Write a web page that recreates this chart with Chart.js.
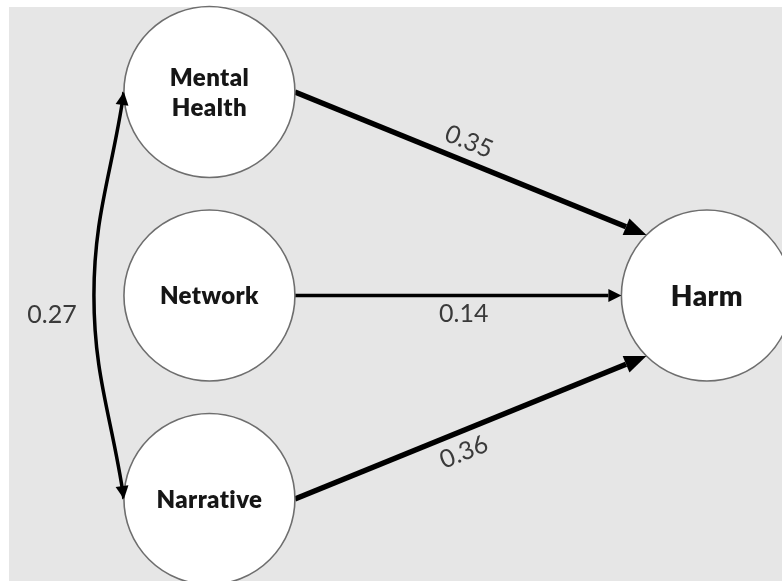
<!DOCTYPE html>
<html>
<head>
<meta charset="utf-8">
<script src="https://cdn.jsdelivr.net/npm/chart.js@4.4.1/dist/chart.umd.min.js"></script>
<style>
html, body { margin: 0; padding: 0; background: #fff; }
#wrap { width: 782px; height: 581px; }
</style>
</head>
<body>
<div id="wrap"><canvas id="pathChart" width="782" height="581"></canvas></div>
<script>
// path model
const nodeLabels = ['Mental Health', 'Network', 'Narrative', 'Harm'];
const pathFrom = ['Mental Health', 'Network', 'Narrative'];
const pathTo = ['Harm', 'Harm', 'Harm'];
const pathCoef = [0.35, 0.14, 0.36];
const covPair = ['Mental Health', 'Narrative'];
const covCoef = [0.27];

// layout: nodes sit on a column / row grid
const W = 782, H = 581;
const nodeCol = [0, 0, 0, 1];
const nodeRow = [0, 1, 2, 1];
const xRange = [-0.421, 1.151];
const yRange = [-0.452, 2.403];
const R = 85.5;
const xPx = W / (xRange[1] - xRange[0]);
const yPx = H / (yRange[1] - yRange[0]);
const rx = R / xPx;
const ry = R / yPx;

// edge styles
const edgeWidth = [5.5, 3.5, 5.5];
const headLen = [22, 13, 22];
const headHalf = [9, 6.5, 9];
const labelAlong = [0.474, 0.517, 0.459];
const labelOffset = [-19.5, 18, 20.4];

function idx(name) {
    return nodeLabels.indexOf(name);
}

const edgeSets = pathFrom.map((src, i) => {
    const s = idx(src);
    const t = idx(pathTo[i]);
    const side = Math.sign(nodeRow[s] - nodeRow[t]);
    const a = side * Math.PI / 4;
    const sx = nodeCol[s] + rx, sy = nodeRow[s];
    const tx = nodeCol[t] - rx * Math.cos(a), ty = nodeRow[t] + ry * Math.sin(a);
    // stop the shaft where the arrow head begins
    const lenPx = Math.hypot((tx - sx) * xPx, (ty - sy) * yPx);
    const f = headLen[i] / lenPx;
    return {
        type: 'line',
        label: src + ' -> ' + pathTo[i],
        kind: 'path',
        edge: i,
        data: [{ x: sx, y: sy }, { x: tx + f * (sx - tx), y: ty + f * (sy - ty) }],
        borderColor: '#000',
        borderWidth: edgeWidth[i],
        pointRadius: 0,
        tension: 0,
        order: 2,
        clip: false
    };
});

const ca = idx(covPair[0]), cb = idx(covPair[1]);
const bulge = 30 / xPx;
const covSet = {
    type: 'line',
    label: covPair.join(' <-> '),
    kind: 'cov',
    data: [
        { x: nodeCol[ca] - rx, y: nodeRow[ca] },
        { x: nodeCol[ca] - rx - bulge, y: (nodeRow[ca] + nodeRow[cb]) / 2 },
        { x: nodeCol[cb] - rx, y: nodeRow[cb] }
    ],
    borderColor: '#000',
    borderWidth: 3.5,
    pointRadius: 0,
    tension: 0.4,
    order: 2,
    clip: false
};

const nodeSet = {
    type: 'scatter',
    label: 'nodes',
    kind: 'node',
    data: nodeLabels.map((n, i) => ({ x: nodeCol[i], y: nodeRow[i] })),
    pointRadius: R,
    pointHoverRadius: R,
    backgroundColor: '#fff',
    borderColor: '#6e6e6e',
    borderWidth: 1.6,
    order: 0,
    clip: false
};

function drawHead(ctx, x, y, ux, uy, len, half) {
    const bx = x - ux * len, by = y - uy * len;
    ctx.beginPath();
    ctx.moveTo(x, y);
    ctx.lineTo(bx - uy * half, by + ux * half);
    ctx.lineTo(bx + uy * half, by - ux * half);
    ctx.closePath();
    ctx.fill();
}

const diagramLayer = {
    id: 'diagramLayer',
    beforeDraw(chart) {
        const ctx = chart.ctx;
        ctx.save();
        ctx.fillStyle = '#fff';
        ctx.fillRect(0, 0, W, H);
        ctx.fillStyle = '#e6e6e6';
        ctx.fillRect(9, 7, W - 9, H - 7);
        ctx.restore();
    },
    afterDatasetsDraw(chart) {
        const ctx = chart.ctx;
        ctx.save();
        ctx.fillStyle = '#000';
        ctx.textAlign = 'center';
        ctx.textBaseline = 'middle';
        chart.data.datasets.forEach((ds, di) => {
            const pts = chart.getDatasetMeta(di).data;
            if (ds.kind === 'path') {
                const i = ds.edge;
                const p0 = pts[0], p1 = pts[1];
                const L = Math.hypot(p1.x - p0.x, p1.y - p0.y);
                const ux = (p1.x - p0.x) / L, uy = (p1.y - p0.y) / L;
                const tipX = p1.x + ux * headLen[i], tipY = p1.y + uy * headLen[i];
                ctx.fillStyle = '#000';
                drawHead(ctx, tipX, tipY, ux, uy, headLen[i], headHalf[i]);
                const lx = p0.x + labelAlong[i] * (tipX - p0.x) - uy * labelOffset[i];
                const ly = p0.y + labelAlong[i] * (tipY - p0.y) + ux * labelOffset[i];
                ctx.save();
                ctx.translate(lx, ly);
                ctx.rotate(Math.atan2(uy, ux));
                ctx.fillStyle = '#3a3a3a';
                ctx.font = '25px Lato';
                ctx.fillText(pathCoef[i].toFixed(2), 0, 0);
                ctx.restore();
            } else if (ds.kind === 'cov') {
                const first = pts[0], last = pts[pts.length - 1], mid = pts[1];
                let dx = first.x - first.cp2x, dy = first.y - first.cp2y;
                let d = Math.hypot(dx, dy);
                ctx.fillStyle = '#000';
                drawHead(ctx, first.x, first.y, dx / d, dy / d, 13, 6.5);
                dx = last.x - last.cp1x; dy = last.y - last.cp1y;
                d = Math.hypot(dx, dy);
                drawHead(ctx, last.x, last.y, dx / d, dy / d, 13, 6.5);
                ctx.fillStyle = '#3a3a3a';
                ctx.font = '25px Lato';
                ctx.fillText(covCoef[0].toFixed(2), mid.x - 42, mid.y + 19);
            } else if (ds.kind === 'node') {
                ctx.fillStyle = '#161616';
                ctx.letterSpacing = '0.4px';
                pts.forEach((p, i) => {
                    const name = nodeLabels[i];
                    const words = name.split(' ');
                    ctx.font = (i === idx('Harm') ? '800 28px' : '800 24px') + ' Lato';
                    const lh = 30;
                    words.forEach((w, k) => {
                        ctx.fillText(w, p.x, p.y + 1 + (k - (words.length - 1) / 2) * lh);
                    });
                });
                ctx.letterSpacing = '0px';
            }
        });
        ctx.restore();
    }
};

function build() {
    new Chart(document.getElementById('pathChart').getContext('2d'), {
        type: 'scatter',
        data: {
            datasets: [nodeSet, ...edgeSets, covSet]
        },
        options: {
            responsive: false,
            animation: false,
            events: [],
            layout: { padding: 0, autoPadding: false },
            plugins: {
                legend: { display: false },
                tooltip: { enabled: false }
            },
            scales: {
                x: { type: 'linear', min: xRange[0], max: xRange[1], display: false },
                y: { type: 'linear', min: yRange[0], max: yRange[1], reverse: true, display: false }
            }
        },
        plugins: [diagramLayer]
    });
}

if (document.fonts && document.fonts.load) {
    Promise.all([document.fonts.load('800 24px Lato'), document.fonts.load('25px Lato')])
        .then(build, build);
} else {
    build();
}
</script>
</body>
</html>
